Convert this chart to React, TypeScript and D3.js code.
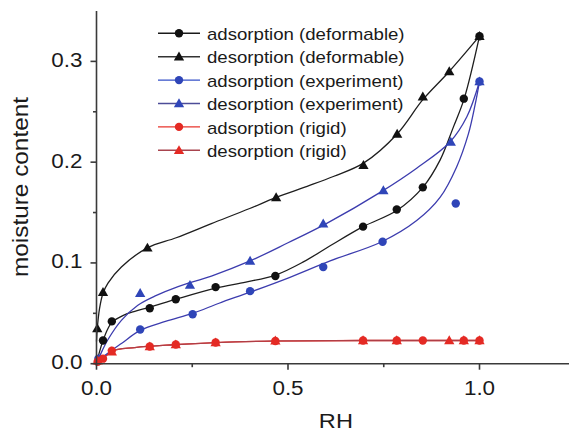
import React from "react";
import * as d3 from "d3";

// Sorption isotherms: moisture content vs relative humidity
const rhAdsDef = [0.017, 0.040, 0.139, 0.207, 0.311, 0.467, 0.696, 0.784, 0.852, 0.959, 1.0];
const mcAdsDef = [0.023, 0.042, 0.055, 0.064, 0.076, 0.087, 0.136, 0.153, 0.175, 0.263, 0.325];

const rhDesDef = [0.002, 0.017, 0.133, 0.469, 0.697, 0.785, 0.852, 0.921, 1.0];
const mcDesDef = [0.035, 0.071, 0.115, 0.165, 0.197, 0.228, 0.265, 0.290, 0.325];

const rhAdsExp = [0.005, 0.114, 0.251, 0.401, 0.592, 0.747, 0.938, 1.0];
const mcAdsExp = [0.005, 0.034, 0.049, 0.072, 0.096, 0.121, 0.159, 0.280];

const rhDesExp = [0.114, 0.244, 0.401, 0.592, 0.749, 0.925, 1.0];
const mcDesExp = [0.070, 0.078, 0.102, 0.139, 0.172, 0.220, 0.280];

const rhAdsRig = [0.003, 0.017, 0.040, 0.139, 0.207, 0.311, 0.467, 0.696, 0.784, 0.852, 0.959, 1.0];
const mcAdsRig = [0.002, 0.005, 0.013, 0.017, 0.019, 0.021, 0.0225, 0.023, 0.023, 0.023, 0.023, 0.023];

const rhDesRig = [0.003, 0.040, 0.139, 0.207, 0.311, 0.467, 0.696, 0.784, 0.921, 0.959, 1.0];
const mcDesRig = [0.003, 0.012, 0.017, 0.019, 0.021, 0.0228, 0.023, 0.023, 0.023, 0.023, 0.023];

// Fitted model curves
const fitRhAdsDef = [0, 0.008, 0.017, 0.03, 0.04, 0.07, 0.1, 0.139, 0.208, 0.311, 0.39, 0.468, 0.54, 0.61, 0.696, 0.784, 0.852, 0.897, 0.932, 0.96, 1.0];
const fitMcAdsDef = [0, 0.012, 0.023, 0.035, 0.041, 0.048, 0.052, 0.056, 0.064, 0.075, 0.081, 0.088, 0.101, 0.117, 0.136, 0.152, 0.175, 0.202, 0.235, 0.263, 0.325];

const fitRhDesDef = [0, 0.002, 0.008, 0.017, 0.03, 0.065, 0.133, 0.208, 0.3, 0.4, 0.469, 0.55, 0.62, 0.697, 0.785, 0.852, 0.921, 1.0];
const fitMcDesDef = [0.022, 0.035, 0.055, 0.070, 0.080, 0.096, 0.115, 0.125, 0.139, 0.154, 0.165, 0.176, 0.186, 0.199, 0.228, 0.262, 0.290, 0.325];

const fitRhAdsExp = [0, 0.015, 0.039, 0.065, 0.114, 0.18, 0.251, 0.32, 0.401, 0.5, 0.61, 0.745, 0.836, 0.897, 0.94, 0.971, 0.988, 1.0];
const fitMcAdsExp = [0, 0.006, 0.013, 0.020, 0.033, 0.042, 0.050, 0.060, 0.071, 0.085, 0.102, 0.121, 0.142, 0.165, 0.195, 0.228, 0.256, 0.280];

const fitRhDesExp = [0, 0.015, 0.03, 0.065, 0.108, 0.152, 0.213, 0.3, 0.401, 0.5, 0.6, 0.745, 0.836, 0.923, 0.967, 1.0];
const fitMcDesExp = [0, 0.013, 0.024, 0.043, 0.058, 0.067, 0.0765, 0.087, 0.102, 0.120, 0.139, 0.171, 0.194, 0.220, 0.245, 0.280];

const fitRhRig = [0, 0.017, 0.040, 0.1, 0.2, 0.311, 0.467, 0.696, 1.0];
const fitMcAdsRig = [0, 0.005, 0.0125, 0.016, 0.0188, 0.021, 0.0225, 0.023, 0.023];
const fitMcDesRig = [0.001, 0.005, 0.0125, 0.016, 0.0188, 0.021, 0.0226, 0.023, 0.023];

const xTicks = [0, 0.5, 1.0];
const xMinorTicks = [0.25, 0.75];
const yTicks = [0, 0.1, 0.2, 0.3];
const yMinorTicks = [0.05, 0.15, 0.25];

const legendLabels = [
  "adsorption (deformable)",
  "desorption (deformable)",
  "adsorption (experiment)",
  "desorption (experiment)",
  "adsorption (rigid)",
  "desorption (rigid)",
];

const W = 569;
const H = 431;
const x0 = 96.5;
const yBase = 363.7;
const x = d3.scaleLinear().domain([0, 1.25]).range([x0, x0 + 383 * 1.25]);
const y = d3.scaleLinear().domain([0, 0.35]).range([yBase, 11]);

const FONT = "'Liberation Sans', Arial, Helvetica, sans-serif";
const SX = 1.15;

const zip = (a: number[], b: number[]) => a.map((v, i) => [v, b[i]] as [number, number]);

const fitLine = d3
  .line<[number, number]>()
  .x((d) => x(d[0]))
  .y((d) => y(d[1]))
  .curve(d3.curveCatmullRom.alpha(0.5));

const triPath = d3.symbol().type(d3.symbolTriangle).size(46)() as string;

type Series = {
  rh: number[];
  mc: number[];
  marker: "circle" | "triangle";
  fill: string;
  line: string;
};

const series: Series[] = [
  { rh: rhAdsDef, mc: mcAdsDef, marker: "circle", fill: "#111", line: "#1a1a1a" },
  { rh: rhDesDef, mc: mcDesDef, marker: "triangle", fill: "#111", line: "#333" },
  { rh: rhAdsExp, mc: mcAdsExp, marker: "circle", fill: "#2f45b8", line: "#3550c8" },
  { rh: rhDesExp, mc: mcDesExp, marker: "triangle", fill: "#2f45b8", line: "#4c4c98" },
  { rh: rhAdsRig, mc: mcAdsRig, marker: "circle", fill: "#e42a24", line: "#e8352d" },
  { rh: rhDesRig, mc: mcDesRig, marker: "triangle", fill: "#e42a24", line: "#a8444e" },
];

const fits = [
  { d: zip(fitRhRig, fitMcAdsRig), color: "#e8352d" },
  { d: zip(fitRhRig, fitMcDesRig), color: "#b03e46" },
  { d: zip(fitRhAdsDef, fitMcAdsDef), color: "#1e1e1e" },
  { d: zip(fitRhDesDef, fitMcDesDef), color: "#1e1e1e" },
  { d: zip(fitRhAdsExp, fitMcAdsExp), color: "#3c3cae" },
  { d: zip(fitRhDesExp, fitMcDesExp), color: "#3c3cae" },
];

function Marker({ kind, cx, cy, fill }: { kind: string; cx: number; cy: number; fill: string }) {
  if (kind === "circle") return <circle cx={cx} cy={cy} r={4.2} fill={fill} />;
  return <path d={triPath} transform={`translate(${cx},${cy + 0.8})`} fill={fill} />;
}

export default function App() {
  const axisColor = "#3a3a3a";
  return (
    <svg
      width={W}
      height={H}
      style={{ position: "fixed", left: 0, top: 0, display: "block", background: "#fff" }}
    >
      {/* fitted curves */}
      <g fill="none" strokeWidth={1.3}>
        {fits.map((f, i) => (
          <path key={i} d={fitLine(f.d) as string} stroke={f.color} />
        ))}
      </g>

      {/* data markers */}
      {series.map((s, si) => (
        <g key={si}>
          {s.rh.map((v, i) => (
            <Marker key={i} kind={s.marker} cx={x(v)} cy={y(s.mc[i])} fill={s.fill} />
          ))}
        </g>
      ))}

      {/* axes */}
      <g stroke={axisColor} strokeWidth={1.6}>
        <line x1={x0} x2={x0} y1={y(0.35)} y2={yBase + 0.8} />
        <line x1={x0 - 0.8} x2={W} y1={yBase} y2={yBase} />
        {yTicks.map((t) => (
          <line key={t} x1={x0 - 6} x2={x0} y1={y(t)} y2={y(t)} />
        ))}
        {yMinorTicks.map((t) => (
          <line key={t} x1={x0 - 3.5} x2={x0} y1={y(t)} y2={y(t)} />
        ))}
        {xTicks.map((t) => (
          <line key={t} x1={x(t)} x2={x(t)} y1={yBase} y2={yBase + 6} />
        ))}
        {xMinorTicks.map((t) => (
          <line key={t} x1={x(t)} x2={x(t)} y1={yBase} y2={yBase + 3.5} />
        ))}
      </g>

      <g fontFamily={FONT} fill="#1a1a1a" fontSize={19.5}>
        {yTicks.map((t) => (
          <text key={t} transform={`translate(${x0 - 14},${y(t) + 5.5}) scale(${SX},1)`} textAnchor="end">
            {d3.format(".1f")(t)}
          </text>
        ))}
        {xTicks.map((t) => (
          <text key={t} transform={`translate(${x(t)},${395}) scale(${SX},1)`} textAnchor="middle">
            {d3.format(".1f")(t)}
          </text>
        ))}
        <text transform={`translate(${x(0.625)},${427.5}) scale(${SX},1)`} textAnchor="middle" fontSize={20.5}>
          RH
        </text>
        <text transform={`translate(27.5,187) rotate(-90) scale(${SX},1)`} textAnchor="middle" fontSize={21.2}>
          moisture content
        </text>
      </g>

      {/* legend */}
      <g fontFamily={FONT} fontSize={16.2} fill="#1a1a1a">
        {series.map((s, i) => {
          const cy = 33.3 + i * 23.4;
          return (
            <g key={i}>
              <line x1={158} x2={200} y1={cy} y2={cy} stroke={s.line} strokeWidth={1.4} />
              <Marker kind={s.marker} cx={179} cy={cy} fill={s.fill} />
              <text transform={`translate(207,${cy + 6.7}) scale(${SX},1)`}>{legendLabels[i]}</text>
            </g>
          );
        })}
      </g>
    </svg>
  );
}
